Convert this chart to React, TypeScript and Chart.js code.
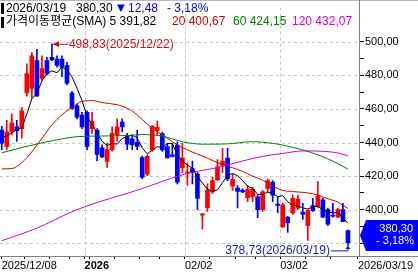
import React, { useEffect, useRef } from 'react';
import { Chart, registerables } from 'chart.js';

Chart.register(...registerables);

const FONT = '"Liberation Sans", "Noto Sans CJK KR", sans-serif';

// trading days (categories)
const dates = [
  '2025/12/08', '2025/12/09', '2025/12/10', '2025/12/11', '2025/12/12', '2025/12/15', '2025/12/16', '2025/12/17',
  '2025/12/18', '2025/12/19', '2025/12/22', '2025/12/23', '2025/12/24', '2025/12/26', '2025/12/29', '2025/12/30',
  '2025/12/31', '2026/01/02', '2026/01/05', '2026/01/06', '2026/01/07', '2026/01/08', '2026/01/09', '2026/01/12',
  '2026/01/13', '2026/01/14', '2026/01/15', '2026/01/16', '2026/01/20', '2026/01/21', '2026/01/22', '2026/01/23',
  '2026/01/26', '2026/01/27', '2026/01/28', '2026/01/29', '2026/01/30', '2026/02/02', '2026/02/03', '2026/02/04',
  '2026/02/05', '2026/02/06', '2026/02/09', '2026/02/10', '2026/02/11', '2026/02/12', '2026/02/13', '2026/02/17',
  '2026/02/18', '2026/02/19', '2026/02/20', '2026/02/23', '2026/02/24', '2026/02/25', '2026/02/26', '2026/02/27',
  '2026/03/02', '2026/03/03', '2026/03/04', '2026/03/05', '2026/03/06', '2026/03/09', '2026/03/10', '2026/03/11',
  '2026/03/12', '2026/03/13', '2026/03/16', '2026/03/17', '2026/03/18', '2026/03/19',
];

const opens = [
  447.4, 437.7, 446.4, 449.3, 448.3, 469.5, 472.4, 488.8, 478.2, 488.8,
  490.7, 489.8, 489.8, 485.9, 469.5, 461.8, 456.4, 458.0, 448.3, 447.4,
  436.8, 428.7, 435.8, 444.5, 452.2, 443.5, 442.2, 440.2, 431.0, 421.2,
  435.6, 447.2, 445.3, 437.6, 432.7, 438.5, 425.0, 421.8, 424.5, 421.2,
  396.7, 401.0, 410.6, 417.9, 426.4, 430.8, 414.0, 412.9, 411.5, 407.1,
  407.7, 407.7, 400.0, 412.5, 416.4, 403.3, 389.8, 395.5, 398.1, 400.9,
  398.6, 390.4, 402.5, 401.9, 405.8, 400.0, 396.7, 395.5, 400.0, 387.5,
];
const highs = [
  449.7, 453.2, 457.0, 453.2, 460.9, 486.9, 493.6, 495.6, 491.7, 490.7,
  498.83, 491.7, 491.7, 487.8, 470.5, 462.8, 458.0, 458.9, 458.0, 448.3,
  438.7, 439.7, 449.3, 454.1, 454.1, 445.5, 444.5, 447.4, 432.0, 432.7,
  450.1, 453.0, 446.2, 439.5, 439.5, 440.4, 439.5, 427.9, 428.9, 422.1,
  397.5, 415.4, 419.3, 429.8, 436.6, 436.6, 421.2, 414.4, 412.5, 414.4,
  413.5, 408.7, 411.5, 418.3, 417.3, 407.7, 403.8, 396.1, 408.7, 408.7,
  403.8, 400.0, 406.7, 416.7, 406.7, 400.9, 403.8, 400.9, 403.8, 387.9,
];
const lows = [
  435.8, 435.8, 444.5, 440.6, 442.6, 467.6, 466.6, 467.6, 477.2, 480.1,
  488.8, 484.9, 479.2, 474.3, 459.9, 454.1, 448.3, 435.8, 445.5, 429.1,
  431.0, 425.2, 434.9, 440.6, 446.4, 435.8, 435.8, 435.8, 418.5, 420.2,
  434.7, 444.3, 434.7, 430.8, 431.4, 415.4, 422.1, 414.4, 415.4, 400.0,
  388.4, 399.0, 409.6, 417.3, 422.1, 417.3, 411.5, 401.0, 410.2, 404.8,
  404.8, 395.2, 399.0, 410.6, 404.8, 398.1, 389.4, 386.5, 397.1, 400.0,
  394.2, 381.7, 399.0, 401.0, 395.2, 390.4, 395.5, 395.2, 392.8, 378.73,
];
const closes = [
  439.7, 446.4, 451.8, 447.0, 458.9, 481.1, 491.7, 467.6, 484.0, 481.1,
  489.2, 485.9, 484.9, 475.3, 460.3, 455.1, 449.3, 437.7, 452.6, 432.9,
  431.4, 435.8, 445.5, 449.3, 449.3, 439.1, 438.7, 437.7, 419.4, 431.8,
  449.7, 449.1, 435.6, 430.8, 431.8, 416.4, 430.8, 422.5, 422.1, 406.7,
  397.5, 411.5, 417.3, 425.6, 428.9, 418.3, 417.9, 410.9, 410.6, 412.1,
  412.1, 400.0, 410.6, 417.3, 408.7, 402.5, 402.9, 392.3, 406.7, 406.3,
  397.1, 399.4, 399.4, 408.3, 395.5, 391.3, 396.1, 400.0, 392.78, 380.3,
];

// moving averages
const ma5 = [
  443.0, 444.0, 446.0, 447.5, 448.8, 457.0, 466.1, 469.3, 476.7, 481.1,
  482.7, 481.6, 485.0, 483.3, 479.1, 472.3, 465.0, 455.5, 451.0, 445.5,
  440.8, 438.1, 439.6, 439.0, 442.3, 443.8, 444.4, 442.8, 436.8, 433.3,
  435.5, 437.5, 437.1, 439.4, 439.4, 432.7, 429.1, 426.5, 424.7, 419.7,
  415.9, 412.1, 411.0, 411.7, 416.2, 420.3, 421.6, 420.3, 417.3, 414.0,
  412.7, 409.1, 409.1, 410.4, 409.7, 407.8, 408.4, 404.7, 402.6, 402.1,
  401.1, 400.4, 401.8, 402.1, 399.9, 398.8, 398.1, 398.2, 395.1, 391.82,
];
const ma20: [number, number][] = [
  [0, 424.3], [2, 424.5], [4, 428], [6, 434.5], [8, 442.5], [10, 450.5], [12, 456.5], [14, 461],
  [16, 464.5], [18, 465], [20, 463.8], [23, 462.5], [25, 460.5], [27, 456.5], [29, 451], [31, 446.5],
  [33, 442.5], [35, 438.5], [38, 434.3], [40, 432], [43, 428], [46, 425], [48, 422.8], [50, 420],
  [52, 417.5], [54, 414], [56, 411.5], [58, 410.8], [60, 410.3], [62, 409.5], [65, 406.5], [67, 404.5],
  [69, 400.67],
];
const ma60: [number, number][] = [
  [0, 433.9], [4, 437], [8, 439.8], [12, 442.2], [15, 443.5], [20, 443.9], [25, 444.2], [28, 444.8],
  [32, 443.8], [36, 440.5], [40, 439], [45, 439.2], [50, 440.5], [54, 439.5], [56, 438.5], [60, 435.6],
  [63, 432.7], [66, 428.9], [69, 424.15],
];
const ma120: [number, number][] = [
  [0, 381.5], [7, 389], [14, 398.8], [19, 404.3], [24, 408.8], [29, 413.6], [34, 419], [38, 422.3],
  [43, 425], [48, 429], [52, 431.8], [56, 433.5], [60, 435], [64, 434.8], [67, 433.8], [69, 432.07],
];

const maPeriods = [5, 20, 60, 120];
const maLast = [391.82, 400.67, 424.15, 432.07];
const maColors = ['#000000', '#d00000', '#008000', '#d000d0'];

const lastChange = -12.48;
const lastPct = -3.18;

// x axis: month starts get a label + grid line, week starts get a tick mark
const monthStartIdx = [17, 37, 56];
const monthLabels = ['2026', '02/02', '03/02'];
const weekStartIdx = [5, 10, 14, 18, 23, 28, 32, 42, 47, 51, 61, 66];
const firstLabel = '2025/12/08';
const lastLabel = '2026/03/19';

// y axis ticks
const yTicks = [380, 390, 400, 410, 420, 430, 440, 450, 460, 470, 480, 490, 500];

const UP = '#ff0000';
const DOWN = '#0000ff';

const fmt = (v: number) => v.toFixed(2).replace('.', ',');

export default function App() {
  const ref = useRef<HTMLCanvasElement | null>(null);

  useEffect(() => {
    document.body.style.margin = '0';
    const canvas = ref.current;
    if (!canvas) return;
    const n = closes.length;
    const idx = closes.map((_, i) => i);
    const colors = idx.map((i) => (closes[i] >= opens[i] ? UP : DOWN));
    const hiIdx = highs.indexOf(Math.max(...highs));
    const loIdx = lows.indexOf(Math.min(...lows));

    const tickMap = new Map<number, string>();
    tickMap.set(0, firstLabel);
    monthStartIdx.forEach((m, k) => tickMap.set(m - 0.5, monthLabels[k]));
    weekStartIdx.forEach((w) => { if (!tickMap.has(w - 0.5)) tickMap.set(w - 0.5, ''); });
    tickMap.set(n + 1, lastLabel);
    const xTickVals = Array.from(tickMap.keys()).sort((a, b) => a - b);
    const monthGrid = monthStartIdx.map((m) => m - 0.5);
    const yGrid = yTicks.filter((v) => v % 20 === 0);

    const gridPlugin = {
      id: 'dashGrid',
      beforeDatasetsDraw(chart: any) {
        const ctx = chart.ctx;
        const xs = chart.scales.x;
        const ys = chart.scales.y;
        const area = chart.chartArea;
        ctx.save();
        ctx.strokeStyle = '#c4c4c4';
        ctx.lineWidth = 1;
        ctx.setLineDash([3, 3]);
        yGrid.forEach((v) => {
          const y = Math.round(ys.getPixelForValue(v)) + 0.5;
          ctx.beginPath();
          ctx.moveTo(area.left, y);
          ctx.lineTo(area.right, y);
          ctx.stroke();
        });
        monthGrid.forEach((v) => {
          const x = Math.round(xs.getPixelForValue(v)) + 0.5;
          ctx.beginPath();
          ctx.moveTo(x, area.top);
          ctx.lineTo(x, area.bottom);
          ctx.stroke();
        });
        ctx.restore();
      },
    };

    const overlay = {
      id: 'overlay',
      afterDraw(chart: any) {
        const ctx = chart.ctx;
        const xs = chart.scales.x;
        const ys = chart.scales.y;
        const area = chart.chartArea;
        const W = chart.width;
        ctx.save();
        // frame
        ctx.fillStyle = '#b4bccc';
        ctx.fillRect(0, 0, W, 1);
        ctx.fillStyle = '#808080';
        ctx.fillRect(Math.round(area.right) - 1, 0, 1, area.bottom);
        ctx.fillRect(0, Math.round(area.bottom), W, 1);

        // header
        ctx.textBaseline = 'middle';
        ctx.textAlign = 'left';
        ctx.font = `12px ${FONT}`;
        ctx.fillStyle = '#000';
        ctx.fillRect(1, 3, 3, 11);
        ctx.fillRect(1, 17, 3, 11);
        ctx.fillText(dates[n - 1], 6, 8.5);
        ctx.fillText(fmt(closes[n - 1]), 76, 8.5);
        ctx.fillStyle = '#0000ff';
        ctx.font = `10px "DejaVu Sans", sans-serif`;
        ctx.fillText(lastChange < 0 ? '▼' : '▲', 117, 8);
        ctx.font = `12px ${FONT}`;
        ctx.fillText(fmt(Math.abs(lastChange)), 128, 8.5);
        ctx.fillText('- ' + fmt(Math.abs(lastPct)) + '%', 167, 8.5);

        ctx.fillStyle = maColors[0];
        ctx.fillText(`가격이동평균(SMA) ${maPeriods[0]} ${fmt(maLast[0])}`, 6, 22);
        const lx = [172, 233, 292];
        for (let k = 1; k < 4; k++) {
          ctx.fillStyle = maColors[k];
          ctx.fillText(`${maPeriods[k]} ${fmt(maLast[k])}`, lx[k - 1], 22);
        }

        // highest marker
        const hx = xs.getPixelForValue(hiIdx);
        const hy = ys.getPixelForValue(highs[hiIdx]);
        ctx.fillStyle = '#d01010';
        ctx.strokeStyle = '#d01010';
        ctx.lineWidth = 1;
        ctx.beginPath();
        ctx.moveTo(hx + 1, hy + 0.5);
        ctx.lineTo(hx + 16, hy + 0.5);
        ctx.stroke();
        ctx.beginPath();
        ctx.moveTo(hx + 1, hy + 0.5);
        ctx.lineTo(hx + 7, hy - 2.5);
        ctx.lineTo(hx + 7, hy + 3.5);
        ctx.closePath();
        ctx.fill();
        ctx.fillText(`${fmt(highs[hiIdx])}(${dates[hiIdx]})`, hx + 17, hy + 0.5);

        // lowest marker
        const lxp = xs.getPixelForValue(loIdx);
        const lyp = ys.getPixelForValue(lows[loIdx]);
        ctx.fillStyle = '#1c1ca0';
        ctx.strokeStyle = '#1c1ca0';
        ctx.textAlign = 'right';
        ctx.fillText(`${fmt(lows[loIdx])}(${dates[loIdx]})`, lxp - 18, lyp + 5);
        ctx.beginPath();
        ctx.moveTo(lxp - 17, lyp + 5.5);
        ctx.lineTo(lxp, lyp + 5.5);
        ctx.lineTo(lxp, lyp + 2);
        ctx.stroke();
        ctx.beginPath();
        ctx.moveTo(lxp - 2.5, lyp + 3.5);
        ctx.lineTo(lxp + 2.5, lyp + 3.5);
        ctx.lineTo(lxp, lyp);
        ctx.closePath();
        ctx.fill();

        // price tag
        const yc = ys.getPixelForValue(closes[n - 1]);
        const h = 31;
        const top = Math.min(yc - h / 2, area.bottom - 5 - h);
        const mid = top + h / 2;
        const r = area.right;
        ctx.fillStyle = '#0000ff';
        ctx.beginPath();
        ctx.moveTo(r, mid);
        ctx.lineTo(r + 6, top);
        ctx.lineTo(W, top);
        ctx.lineTo(W, top + h);
        ctx.lineTo(r + 6, top + h);
        ctx.closePath();
        ctx.fill();
        ctx.fillStyle = '#ffffff';
        ctx.font = `11px ${FONT}`;
        ctx.textAlign = 'right';
        ctx.fillText(fmt(closes[n - 1]), W - 5, top + 8.5);
        ctx.fillText('- ' + fmt(Math.abs(lastPct)) + '%', W - 4, top + 21);
        ctx.restore();
      },
    };

    const lineDs = (pts: [number, number][], color: string) => ({
      type: 'line' as const,
      data: pts.map(([x, y]) => ({ x, y })),
      borderColor: color,
      borderWidth: 1,
      pointRadius: 0,
      cubicInterpolationMode: 'monotone' as const,
      order: 0,
    });

    const chart = new Chart(canvas, {
      type: 'bar',
      data: {
        datasets: [
          lineDs(ma120, maColors[3]),
          lineDs(ma60, maColors[2]),
          lineDs(ma20, maColors[1]),
          {
            type: 'line',
            data: idx.map((i) => ({ x: i, y: ma5[i] })),
            borderColor: maColors[0],
            borderWidth: 1,
            pointRadius: 0,
            tension: 0,
            order: 0,
          } as any,
          {
            type: 'bar',
            data: idx.map((i) => ({ x: i, y: [lows[i], highs[i]] })),
            backgroundColor: colors,
            barThickness: 1,
            grouped: false,
            order: 2,
          } as any,
          {
            type: 'bar',
            data: idx.map((i) => ({ x: i, y: [opens[i], closes[i]] })),
            backgroundColor: colors,
            barThickness: 4,
            minBarLength: 1,
            grouped: false,
            order: 1,
          } as any,
        ],
      },
      options: {
        animation: false,
        responsive: false,
        maintainAspectRatio: false,
        devicePixelRatio: 1,
        events: [],
        layout: { padding: 0 },
        plugins: { legend: { display: false }, tooltip: { enabled: false } },
        scales: {
          x: {
            type: 'linear',
            min: -0.35,
            max: 71.4,
            offset: false,
            afterBuildTicks: (s: any) => { s.ticks = xTickVals.map((v) => ({ value: v })); },
            afterFit: (s: any) => { s.height = 20; },
            grid: {
              offset: false,
              color: 'rgba(0,0,0,0)',
              tickColor: '#000',
              tickLength: 3,
              lineWidth: 1,
            },
            border: { display: false },
            ticks: {
              autoSkip: false,
              maxRotation: 0,
              minRotation: 0,
              align: 'start',
              padding: 0,
              color: '#000',
              font: (c: any) => ({
                family: FONT,
                size: 11,
                weight: c.tick && c.tick.value === monthStartIdx[0] - 0.5 ? 'bold' : 'normal',
              }),
              callback: (v: any) => tickMap.get(Number(v)) ?? '',
            },
          } as any,
          y: {
            position: 'right',
            min: 372.4,
            max: 520.4,
            afterBuildTicks: (s: any) => { s.ticks = yTicks.map((v) => ({ value: v })); },
            afterFit: (s: any) => { s.width = 58; },
            grid: {
              color: 'rgba(0,0,0,0)',
              tickColor: '#000',
              tickLength: 4,
              lineWidth: 1,
            },
            border: { display: false },
            ticks: {
              padding: 1,
              color: '#000',
              font: { family: FONT, size: 11 },
              callback: (v: any) => (Number(v) % 20 === 0 ? fmt(Number(v)) : ''),
            },
          } as any,
        },
      },
      plugins: [gridPlugin, overlay],
    });
    return () => chart.destroy();
  }, []);

  return (
    <div style={{ position: 'relative', width: 418, height: 276, background: '#fff' }}>
      <canvas ref={ref} width={418} height={276} style={{ display: 'block' }} />
    </div>
  );
}
